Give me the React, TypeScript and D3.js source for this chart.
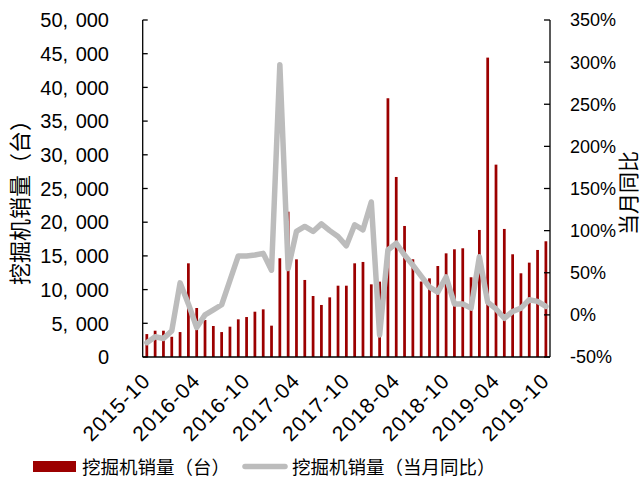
import { useEffect, useRef } from 'react';
import * as d3 from 'd3';

const WIDTH = 643;
const HEIGHT = 479;
const PLOT = { left: 142.7, right: 550, top: 20, bottom: 357 } as const;

const MONTHS = [
  '2015-10', '2015-11', '2015-12',
  '2016-01', '2016-02', '2016-03', '2016-04', '2016-05', '2016-06',
  '2016-07', '2016-08', '2016-09', '2016-10', '2016-11', '2016-12',
  '2017-01', '2017-02', '2017-03', '2017-04', '2017-05', '2017-06',
  '2017-07', '2017-08', '2017-09', '2017-10', '2017-11', '2017-12',
  '2018-01', '2018-02', '2018-03', '2018-04', '2018-05', '2018-06',
  '2018-07', '2018-08', '2018-09', '2018-10', '2018-11', '2018-12',
  '2019-01', '2019-02', '2019-03', '2019-04', '2019-05', '2019-06',
  '2019-07', '2019-08', '2019-09', '2019-10',
];

// 挖掘机销量（台）
const SALES = [
  3400, 3900, 3900,
  3000, 3700, 13900, 7270, 5490, 4600, 3700, 4500, 5590, 5930, 6720, 7070,
  4650, 14650, 21560, 14490, 11430, 9050, 7720, 8850, 10580, 10580, 13900, 14100,
  10780, 11180, 38390, 26710, 19440, 14500, 11200, 11670, 13500, 15380, 15980, 16130,
  11830, 18850, 44420, 28540, 19000, 15240, 12420, 14000, 15880, 17170,
];

// 挖掘机销量（当月同比），%
const YOY = [
  -33, -26, -28,
  -19, 38, 13, -15, 0, 6, 12, 41, 70, 70, 71, 73,
  53, 297, 55, 99, 105, 99, 108, 100, 93, 82, 107, 101,
  134, -24, 77, 85, 71, 59, 46, 33, 27, 45, 13, 13,
  8, 69, 15, 7, -4, 4, 8, 18, 16, 10,
];

const X_TICKS = ['2015-10', '2016-04', '2016-10', '2017-04', '2017-10', '2018-04', '2018-10', '2019-04', '2019-10'];
const LEFT_TICKS = [0, 5000, 10000, 15000, 20000, 25000, 30000, 35000, 40000, 45000, 50000];
const RIGHT_TICKS = [-50, 0, 50, 100, 150, 200, 250, 300, 350];

const BAR_LABEL = '挖掘机销量（台）';
const LINE_LABEL = '挖掘机销量（当月同比）';

const BAR_COLOR = '#9c0000';
const LINE_COLOR = '#bcbcbc';
const LATIN = '"Liberation Sans", Arial, sans-serif';
const CJK = '"Noto Sans CJK SC", sans-serif';

export default function App() {
  const svgRef = useRef<SVGSVGElement | null>(null);

  useEffect(() => {
    const svgEl = svgRef.current;
    if (!svgEl) return;
    const svg = d3.select(svgEl);
    svg.selectAll('*').remove();

    const x = d3.scaleBand<string>().domain(MONTHS).range([PLOT.left, PLOT.right]).paddingInner(0.67).paddingOuter(0.33);
    const yLeft = d3.scaleLinear().domain([0, 50000]).range([PLOT.bottom, PLOT.top]);
    const yRight = d3.scaleLinear().domain([-50, 350]).range([PLOT.bottom, PLOT.top]);
    const cx = (m: string) => (x(m) ?? 0) + x.bandwidth() / 2;

    // ---- bars ----
    svg
      .append('g')
      .selectAll('rect')
      .data(SALES)
      .join('rect')
      .attr('x', (_, i) => x(MONTHS[i]) ?? 0)
      .attr('width', x.bandwidth())
      .attr('y', (d) => yLeft(d))
      .attr('height', (d) => yLeft(0) - yLeft(d))
      .attr('fill', BAR_COLOR);

    // ---- yoy line ----
    const line = d3
      .line<number>()
      .x((_, i) => cx(MONTHS[i]))
      .y((d) => yRight(d));
    svg
      .append('path')
      .datum(YOY)
      .attr('d', line)
      .attr('fill', 'none')
      .attr('stroke', LINE_COLOR)
      .attr('stroke-width', 5.5)
      .attr('stroke-linejoin', 'round')
      .attr('stroke-linecap', 'round');

    // ---- axes ----
    const axes = svg.append('g').attr('stroke', '#000').attr('stroke-width', 1.3);
    axes.append('line').attr('x1', PLOT.left).attr('x2', PLOT.left).attr('y1', PLOT.top).attr('y2', PLOT.bottom);
    axes.append('line').attr('x1', PLOT.right).attr('x2', PLOT.right).attr('y1', PLOT.top).attr('y2', PLOT.bottom);
    axes.append('line').attr('x1', PLOT.left).attr('x2', PLOT.right).attr('y1', PLOT.bottom).attr('y2', PLOT.bottom);
    axes
      .selectAll('line.lt')
      .data(LEFT_TICKS)
      .join('line')
      .attr('class', 'lt')
      .attr('x1', PLOT.left)
      .attr('x2', PLOT.left + 5)
      .attr('y1', (d) => yLeft(d))
      .attr('y2', (d) => yLeft(d));
    axes
      .selectAll('line.rt')
      .data(RIGHT_TICKS)
      .join('line')
      .attr('class', 'rt')
      .attr('x1', PLOT.right - 6)
      .attr('x2', PLOT.right)
      .attr('y1', (d) => yRight(d))
      .attr('y2', (d) => yRight(d));

    const fmt = d3.format(',');
    svg
      .append('g')
      .selectAll('text')
      .data(LEFT_TICKS)
      .join('text')
      .attr('x', 109)
      .attr('y', (d) => yLeft(d))
      .attr('dy', '0.36em')
      .attr('text-anchor', 'end')
      .attr('font-family', LATIN)
      .attr('font-size', 20)
      .attr('word-spacing', 2)
      .text((d) => fmt(d).replace(',', ', '));

    svg
      .append('g')
      .selectAll('text')
      .data(RIGHT_TICKS)
      .join('text')
      .attr('x', 570)
      .attr('y', (d) => yRight(d))
      .attr('dy', '0.36em')
      .attr('font-family', LATIN)
      .attr('font-size', 18)
      .text((d) => `${d}%`);

    svg
      .append('g')
      .selectAll('text')
      .data(X_TICKS)
      .join('text')
      .attr('transform', (d) => `translate(${cx(d) + 5}, 382) rotate(-45)`)
      .attr('text-anchor', 'end')
      .attr('font-family', LATIN)
      .attr('font-size', 21)
      .attr('letter-spacing', 1.2)
      .text((d) => d);

    // ---- axis titles ----
    svg
      .append('text')
      .attr('transform', 'translate(28, 197) rotate(-90)')
      .attr('text-anchor', 'middle')
      .attr('font-family', CJK)
      .attr('font-size', 22)
      .text('挖掘机销量（台）');
    svg
      .append('text')
      .attr('transform', 'translate(636, 193) rotate(-90)')
      .attr('text-anchor', 'middle')
      .attr('font-family', CJK)
      .attr('font-size', 21)
      .text('当月同比');

    // ---- legend ----
    const legend = svg.append('g').attr('font-family', CJK).attr('font-size', 18.5);
    legend.append('rect').attr('x', 33).attr('y', 461).attr('width', 43).attr('height', 11).attr('fill', BAR_COLOR);
    legend.append('text').attr('x', 82).attr('y', 467).attr('dy', '0.36em').text(BAR_LABEL);
    legend
      .append('line')
      .attr('x1', 245)
      .attr('x2', 285)
      .attr('y1', 466.5)
      .attr('y2', 466.5)
      .attr('stroke', LINE_COLOR)
      .attr('stroke-width', 5.5)
      .attr('stroke-linecap', 'round');
    legend.append('text').attr('x', 292).attr('y', 467).attr('dy', '0.36em').text(LINE_LABEL);
  }, []);

  return (
    <svg
      ref={svgRef}
      width={WIDTH}
      height={HEIGHT}
      viewBox={`0 0 ${WIDTH} ${HEIGHT}`}
      style={{ position: 'absolute', left: 0, top: 0, background: '#fff' }}
    />
  );
}
